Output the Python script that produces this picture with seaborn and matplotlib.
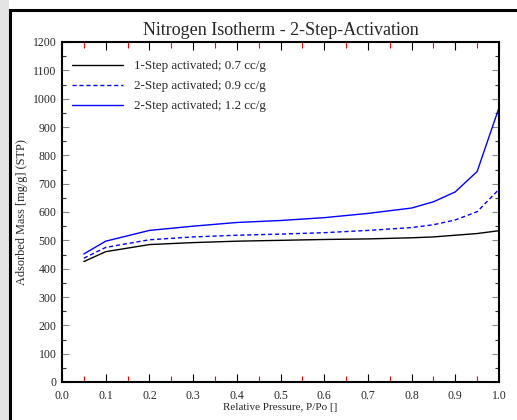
import matplotlib
matplotlib.use("Agg")
import matplotlib.pyplot as plt
import matplotlib.patches as mpatches
from matplotlib.ticker import MultipleLocator, FormatStrFormatter
import pandas as pd
import seaborn as sns

# Relative pressure points (P/Po)
pressure = [0.05, 0.1, 0.2, 0.3, 0.4, 0.5, 0.6, 0.7, 0.8, 0.85, 0.9, 0.95, 1.0]

# Adsorbed mass [mg/g] for each sample
one_step_07 = [425, 460, 485, 492, 497, 500, 503, 505, 509, 512, 518, 524, 534]
two_step_09 = [437, 475, 502, 512, 518, 522, 527, 535, 545, 555, 572, 601, 680]
two_step_12 = [452, 497, 535, 550, 563, 570, 580, 595, 614, 636, 671, 743, 968]

series_names = ["1-Step activated; 0.7 cc/g",
                "2-Step activated; 0.9 cc/g",
                "2-Step activated; 1.2 cc/g"]

title_text = "Nitrogen Isotherm - 2-Step-Activation"
x_label = "Relative Pressure, P/Po []"
y_label = "Adsorbed Mass [mg/g] (STP)"

sns.set_theme(style="white")
plt.rcParams["font.family"] = ["Liberation Serif", "DejaVu Serif"]

fig = plt.figure(figsize=(5.17, 4.20), dpi=100)

# light gray strip at the left edge and the black outer frame
fig.patches.append(mpatches.Rectangle((0, 0), 9 / 517, 1, transform=fig.transFigure,
                                      facecolor="#e4e4e4", edgecolor="none", zorder=0))
fig.patches.append(mpatches.Rectangle((9.5 / 517, -0.05), 1.2, 1.05 - 10.5 / 420,
                                      transform=fig.transFigure, facecolor="none",
                                      edgecolor="black", linewidth=2.2, zorder=1))

ax = fig.add_axes([62 / 517, 1 - 382 / 420, (499 - 62) / 517, (382 - 42) / 420])

df = pd.DataFrame({
    "P": pressure * 3,
    "mass": one_step_07 + two_step_09 + two_step_12,
    "sample": [series_names[0]] * len(pressure) + [series_names[1]] * len(pressure)
              + [series_names[2]] * len(pressure),
})

styles = [("black", "-"), ("#0000ff", (0, (3, 2))), ("#0000ff", "-")]
for name, (col, ls) in zip(series_names, styles):
    sub = df[df["sample"] == name]
    sns.lineplot(data=sub, x="P", y="mass", ax=ax, color=col, linestyle=ls,
                 linewidth=1.0, label=name)

ax.set_xlim(0, 1.0)
ax.set_ylim(0, 1200)
ax.xaxis.set_major_locator(MultipleLocator(0.1))
ax.xaxis.set_minor_locator(MultipleLocator(0.05))
ax.yaxis.set_major_locator(MultipleLocator(100))
ax.yaxis.set_minor_locator(MultipleLocator(50))
ax.xaxis.set_major_formatter(FormatStrFormatter("%.1f"))

ax.tick_params(axis="x", which="major", direction="in", length=6, width=0.8,
               color="black", top=True, bottom=True, labelsize=8.5, pad=6)
ax.tick_params(axis="x", which="minor", direction="in", length=4, width=0.8,
               color="red", top=True, bottom=True)
ax.tick_params(axis="y", which="major", direction="in", length=5, width=0.8,
               color="#888888", left=True, right=True, labelsize=8.5, pad=4)
ax.tick_params(axis="y", which="minor", direction="in", length=3, width=0.8,
               color="#333333", left=True, right=True)

for s in ax.spines.values():
    s.set_visible(True)
    s.set_color("black")
    s.set_linewidth(1.5)

ax.set_title(title_text, fontsize=13, pad=5)
ax.set_xlabel(x_label, fontsize=8)
ax.set_ylabel(y_label, fontsize=8.8)
ax.xaxis.set_label_coords(0.5, -25 / 340, transform=ax.transAxes)
ax.yaxis.set_label_coords(-40 / 437, 0.5, transform=ax.transAxes)
ax.xaxis.label.set_va("center")
ax.yaxis.label.set_va("center")

leg = ax.legend(loc="upper left", frameon=False, fontsize=9.4, handlelength=3.9,
                handletextpad=0.8, labelspacing=0.6, borderaxespad=0.0,
                bbox_to_anchor=(0.012, 0.962))

fig.savefig("out.png", dpi=100)
